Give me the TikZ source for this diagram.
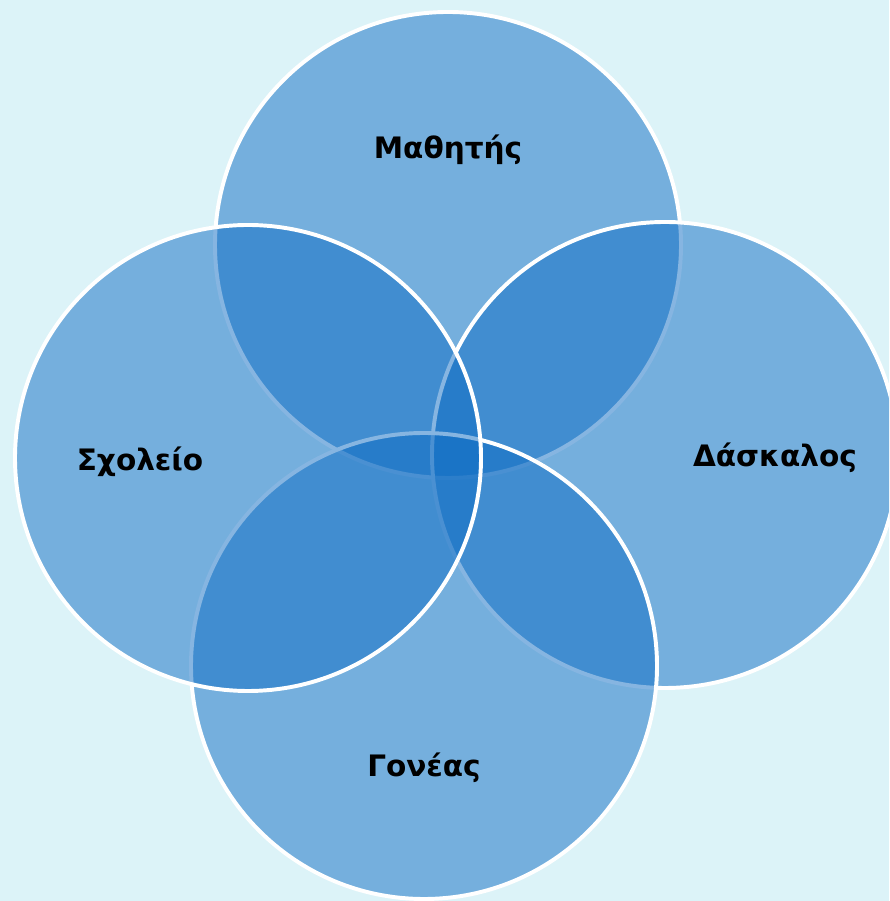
\documentclass[tikz,border=0pt]{standalone}
\usepackage{fontspec}
\setmainfont{DejaVu Sans}
\definecolor{venn}{RGB}{15,109,196}
\definecolor{bgcyan}{RGB}{220,243,248}
\tikzset{
    ring/.style={fill=venn, fill opacity=0.5, draw=white, line width=2.8pt},
    word/.style={font=\bfseries\fontsize{21}{25}\selectfont, text=black}
}
\begin{document}
\begin{tikzpicture}
        \useasboundingbox (0, 0) rectangle (22.225, 22.525);
        \fill[bgcyan] (0, 0) rectangle (22.225, 22.525);
        \clip (0, 0) rectangle (22.225, 22.525);
        
        % Circles
        \filldraw[ring] (11.2, 16.4) circle (5.825);
        \filldraw[ring] (16.625, 11.15) circle (5.825);
        \filldraw[ring] (10.6, 5.875) circle (5.825);
        \filldraw[ring] (6.2, 11.075) circle (5.825);
        
        % Labels
        \node[word] (pupil) at (11.2, 18.775) {Μαθητής};
        \node[word] (teacher) at (19.375, 11.075) {Δάσκαλος};
        \node[word] (parent) at (10.6, 3.325) {Γονέας};
        \node[word] (school) at (3.5, 10.975) {Σχολείο};
    \end{tikzpicture}
\end{document}
